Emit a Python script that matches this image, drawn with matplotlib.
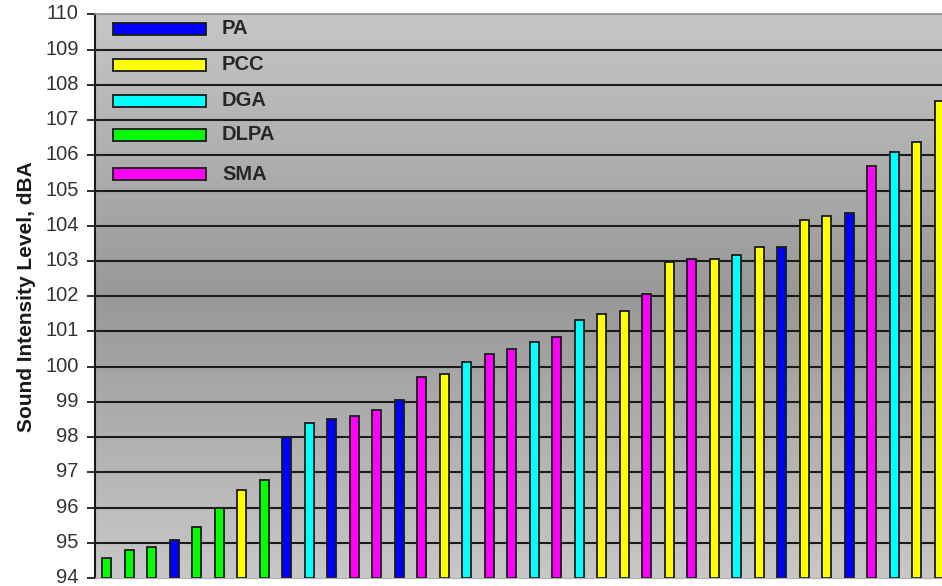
import numpy as np
import matplotlib
matplotlib.use("Agg")
import matplotlib.pyplot as plt
import matplotlib.transforms as mtransforms
from matplotlib.colors import LinearSegmentedColormap

plt.rcParams['font.family'] = ['Liberation Sans', 'DejaVu Sans']

# measured levels, sorted low to high, with the source type of each
levels = [94.57, 94.79, 94.88, 95.09, 95.45, 95.98, 96.50, 96.78, 97.99, 98.39,
          98.52, 98.61, 98.78, 99.04, 99.70, 99.79, 100.14, 100.35, 100.49, 100.71,
          100.84, 101.32, 101.50, 101.59, 102.07, 102.97, 103.07, 103.06, 103.17, 103.39,
          103.39, 104.17, 104.27, 104.35, 105.70, 106.10, 106.37, 107.55]
types = ['DLPA', 'DLPA', 'DLPA', 'PA', 'DLPA', 'DLPA', 'PCC', 'DLPA', 'PA', 'DGA',
         'PA', 'SMA', 'SMA', 'PA', 'SMA', 'PCC', 'DGA', 'SMA', 'SMA', 'DGA',
         'SMA', 'DGA', 'PCC', 'PCC', 'SMA', 'PCC', 'SMA', 'PCC', 'DGA', 'PCC',
         'PA', 'PCC', 'PCC', 'PA', 'SMA', 'DGA', 'PCC', 'PCC']

legend_order = ['PA', 'PCC', 'DGA', 'DLPA', 'SMA']
type_colors = {'PA': '#0000ff', 'PCC': '#ffff00', 'DGA': '#00ffff',
               'DLPA': '#00ff00', 'SMA': '#ff00ff'}

fig = plt.figure(figsize=(9.42, 5.86), dpi=100)
ax = fig.add_axes([0.1013, 0.0137, 0.9077, 0.9616])

ymin, ymax = 94, 110
x = np.arange(len(levels))

# grey vertical gradient behind the plot, darkest in the middle
grad_cmap = LinearSegmentedColormap.from_list(
    'bg', [(0.0, '#c6c6c6'), (0.5, '#989898'), (1.0, '#c8c8c8')])
grad = np.linspace(0, 1, 256).reshape(-1, 1)
ax.imshow(grad, cmap=grad_cmap, aspect='auto', origin='upper',
          extent=(-0.5, len(levels) - 0.5, ymin, ymax), zorder=0)

for yv in range(ymin + 1, ymax):
    ax.axhline(yv, color='#1c1c1c', lw=1.5, zorder=1)

ax.bar(x, np.array(levels) - ymin, bottom=ymin, width=0.4,
       color=[type_colors[t] for t in types], edgecolor='#1a1a1a',
       linewidth=1.3, zorder=2)

ax.set_xlim(-0.5, len(levels) - 0.5)
ax.set_ylim(ymin, ymax)
ax.set_yticks(range(ymin, ymax + 1))
ax.set_xticks([])
ax.tick_params(axis='y', direction='out', length=6, width=1.3, pad=6,
               labelsize=14.5, colors='#1a1a1a', labelcolor='#333333')

# nudge the tick labels up a couple of pixels so "94" stays on the canvas
lift = mtransforms.ScaledTranslation(0, 2.5 / 100, fig.dpi_scale_trans)
for lab in ax.get_yticklabels():
    lab.set_transform(lab.get_transform() + lift)

ax.spines['left'].set_color('#1a1a1a')
ax.spines['left'].set_linewidth(1.5)
ax.spines['top'].set_color('#8c8c8c')
ax.spines['top'].set_linewidth(1.2)
ax.spines['right'].set_visible(False)
ax.spines['bottom'].set_color('#b0b0b0')
ax.spines['bottom'].set_linewidth(0.8)

ax.set_ylabel('Sound Intensity Level, dBA', fontsize=15, fontweight='bold',
              color='#1a1a1a', labelpad=7)

# hand-placed legend (figure pixel coordinates, y from top)
row_y = [29, 65, 101, 135, 174]
W, H = 942, 586
for name, ry in zip(legend_order, row_y):
    fig.patches.append(plt.Rectangle((113 / W, 1 - (ry + 6) / H), 93 / W, 12 / H,
                                     transform=fig.transFigure,
                                     facecolor=type_colors[name],
                                     edgecolor='#1a1a1a', lw=1.3, zorder=5))
    fig.text(222 / W, 1 - ry / H, name, fontsize=14.5, fontweight='bold',
             color='#262626', va='center', ha='left')

fig.savefig('out.png', dpi=100)
